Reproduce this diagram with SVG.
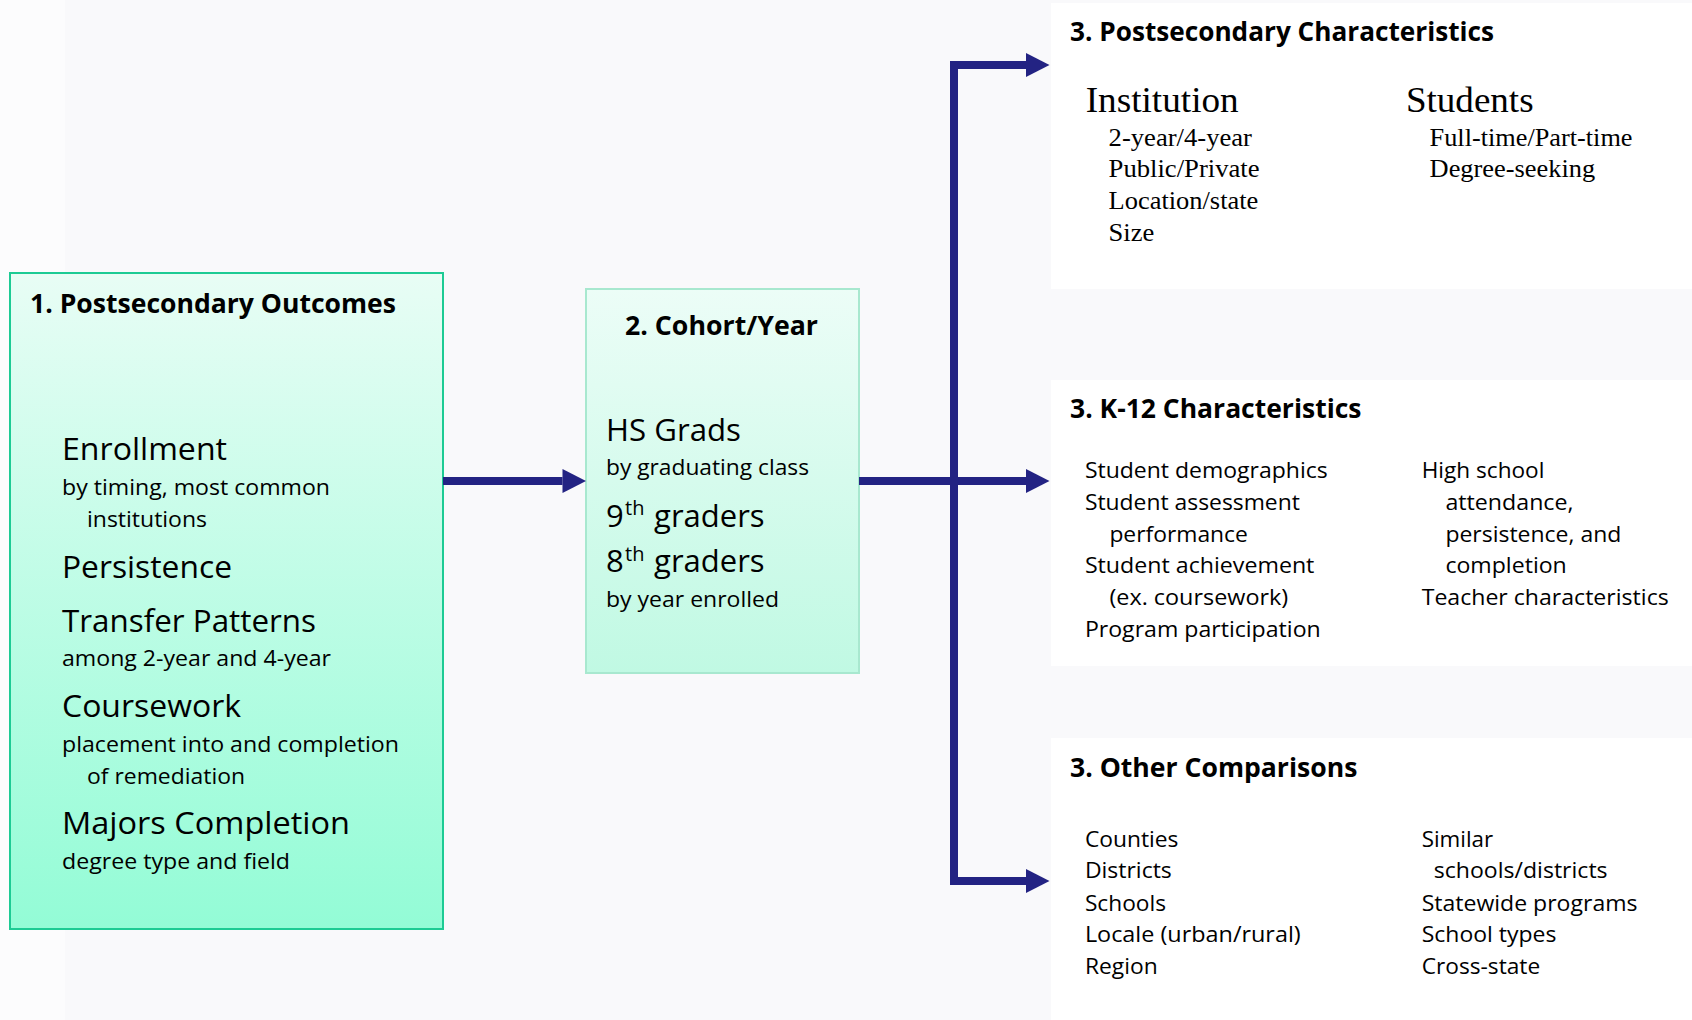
<svg xmlns="http://www.w3.org/2000/svg" width="1692" height="1020" viewBox="0 0 1692 1020">
  <defs>
    <linearGradient id="g1" x1="0" y1="0" x2="0" y2="1">
      <stop offset="0" stop-color="#e8fdf5"/>
      <stop offset="1" stop-color="#93fcd6"/>
    </linearGradient>
    <linearGradient id="g2" x1="0" y1="0" x2="0" y2="1">
      <stop offset="0" stop-color="#ecfdf7"/>
      <stop offset="1" stop-color="#c0f9e3"/>
    </linearGradient>
    <marker id="ah" markerUnits="userSpaceOnUse" markerWidth="24" markerHeight="26" refX="0" refY="12" orient="auto" overflow="visible">
      <path d="M0,0 L23.5,12 L0,24 Z" fill="#232383"/>
    </marker>
  </defs>
  <style>
    .t { font-family: "Open Sans", "Liberation Sans", sans-serif; fill: #000; }
    .s { font-family: "Liberation Serif", "Times New Roman", serif; fill: #000; }
    .title { font-weight: 700; font-size: 27px; }
    .big { font-size: 31px; }
    .sub { font-size: 22px; }
    .sup { font-size: 20px; }
    .sbig { font-size: 36px; }
    .sitem { font-size: 26px; }
    .panel { fill: #ffffff; }
    .conn { fill: none; stroke: #232383; stroke-width: 8; stroke-linejoin: miter; marker-end: url(#ah); }
  </style>

  <rect x="0" y="0" width="1692" height="1020" fill="#f9f9fb"/>
  <rect x="0" y="0" width="65" height="1020" fill="#fcfcfd"/>

  <g id="node-outcomes">
    <rect x="10" y="273" width="433" height="656" fill="url(#g1)" stroke="#1dcb94" stroke-width="2"/>
    <text class="t title" x="30" y="312.7" textLength="366" lengthAdjust="spacingAndGlyphs">1. Postsecondary Outcomes</text>
    <text class="t big" x="62" y="460" textLength="165" lengthAdjust="spacingAndGlyphs">Enrollment</text>
    <text class="t sub" x="62" y="495" textLength="268" lengthAdjust="spacingAndGlyphs">by timing, most common</text>
    <text class="t sub" x="87" y="526.7" textLength="120" lengthAdjust="spacingAndGlyphs">institutions</text>
    <text class="t big" x="62" y="578.3" textLength="170" lengthAdjust="spacingAndGlyphs">Persistence</text>
    <text class="t big" x="62" y="631.7" textLength="254" lengthAdjust="spacingAndGlyphs">Transfer Patterns</text>
    <text class="t sub" x="62" y="665.7" textLength="269" lengthAdjust="spacingAndGlyphs">among 2-year and 4-year</text>
    <text class="t big" x="62" y="717.3" textLength="179" lengthAdjust="spacingAndGlyphs">Coursework</text>
    <text class="t sub" x="62" y="752.3" textLength="337" lengthAdjust="spacingAndGlyphs">placement into and completion</text>
    <text class="t sub" x="87" y="784" textLength="158" lengthAdjust="spacingAndGlyphs">of remediation</text>
    <text class="t big" x="62" y="834.3" textLength="288" lengthAdjust="spacingAndGlyphs">Majors Completion</text>
    <text class="t sub" x="62" y="869.3" textLength="228" lengthAdjust="spacingAndGlyphs">degree type and field</text>
  </g>

  <g id="node-cohort">
    <rect x="586" y="289" width="273" height="384" fill="url(#g2)" stroke="#a8e8cf" stroke-width="2"/>
    <text class="t title" x="625" y="335" textLength="193" lengthAdjust="spacingAndGlyphs">2. Cohort/Year</text>
    <text class="t big" x="606" y="440.7" textLength="135" lengthAdjust="spacingAndGlyphs">HS Grads</text>
    <text class="t sub" x="606" y="475" textLength="203" lengthAdjust="spacingAndGlyphs">by graduating class</text>
    <text class="t big" x="606" y="526.7">9<tspan class="sup" x="625" y="515">th</tspan><tspan x="646" y="526.7"> graders</tspan></text>
    <text class="t big" x="606" y="572.3">8<tspan class="sup" x="625" y="560.6">th</tspan><tspan x="646" y="572.3"> graders</tspan></text>
    <text class="t sub" x="606" y="606.7" textLength="173" lengthAdjust="spacingAndGlyphs">by year enrolled</text>
  </g>

  <g id="node-postsec-char">
    <rect class="panel" x="1051" y="3" width="641" height="286"/>
    <text class="t title" x="1070" y="40.7" textLength="424" lengthAdjust="spacingAndGlyphs">3. Postsecondary Characteristics</text>
    <text class="s sbig" x="1085.7" y="111.7" textLength="153" lengthAdjust="spacingAndGlyphs">Institution</text>
    <text class="s sitem" x="1108.6" y="145.7" textLength="143.4" lengthAdjust="spacingAndGlyphs">2-year/4-year</text>
    <text class="s sitem" x="1108.6" y="177.3" textLength="151" lengthAdjust="spacingAndGlyphs">Public/Private</text>
    <text class="s sitem" x="1108.6" y="209.3" textLength="149.7" lengthAdjust="spacingAndGlyphs">Location/state</text>
    <text class="s sitem" x="1108.6" y="241" textLength="45.7" lengthAdjust="spacingAndGlyphs">Size</text>
    <text class="s sbig" x="1405.9" y="111.7" textLength="127.7" lengthAdjust="spacingAndGlyphs">Students</text>
    <text class="s sitem" x="1429.6" y="145.7" textLength="202.9" lengthAdjust="spacingAndGlyphs">Full-time/Part-time</text>
    <text class="s sitem" x="1429.6" y="177.3" textLength="165.5" lengthAdjust="spacingAndGlyphs">Degree-seeking</text>
  </g>

  <g id="node-k12-char">
    <rect class="panel" x="1051" y="380" width="641" height="286"/>
    <text class="t title" x="1070" y="418.3" textLength="291.5" lengthAdjust="spacingAndGlyphs">3. K-12 Characteristics</text>
    <text class="t sub" x="1084.9" y="477.7" textLength="242.8" lengthAdjust="spacingAndGlyphs">Student demographics</text>
    <text class="t sub" x="1084.9" y="510" textLength="215" lengthAdjust="spacingAndGlyphs">Student assessment</text>
    <text class="t sub" x="1109.4" y="541.7" textLength="138.5" lengthAdjust="spacingAndGlyphs">performance</text>
    <text class="t sub" x="1084.9" y="573.3" textLength="229.5" lengthAdjust="spacingAndGlyphs">Student achievement</text>
    <text class="t sub" x="1109.4" y="605" textLength="178.8" lengthAdjust="spacingAndGlyphs">(ex. coursework)</text>
    <text class="t sub" x="1084.9" y="637.3" textLength="235.8" lengthAdjust="spacingAndGlyphs">Program participation</text>
    <text class="t sub" x="1421.7" y="477.7" textLength="122.7" lengthAdjust="spacingAndGlyphs">High school</text>
    <text class="t sub" x="1445.4" y="510" textLength="128.1" lengthAdjust="spacingAndGlyphs">attendance,</text>
    <text class="t sub" x="1445.4" y="541.7" textLength="175.9" lengthAdjust="spacingAndGlyphs">persistence, and</text>
    <text class="t sub" x="1445.4" y="573.3" textLength="121.4" lengthAdjust="spacingAndGlyphs">completion</text>
    <text class="t sub" x="1421.7" y="605" textLength="247" lengthAdjust="spacingAndGlyphs">Teacher characteristics</text>
  </g>

  <g id="node-other">
    <rect class="panel" x="1051" y="738" width="641" height="282"/>
    <text class="t title" x="1070" y="776.7" textLength="287.4" lengthAdjust="spacingAndGlyphs">3. Other Comparisons</text>
    <text class="t sub" x="1084.9" y="846.7" textLength="93.6" lengthAdjust="spacingAndGlyphs">Counties</text>
    <text class="t sub" x="1084.9" y="878.3" textLength="86.9" lengthAdjust="spacingAndGlyphs">Districts</text>
    <text class="t sub" x="1084.9" y="910.7" textLength="81.1" lengthAdjust="spacingAndGlyphs">Schools</text>
    <text class="t sub" x="1084.9" y="942.3" textLength="215.8" lengthAdjust="spacingAndGlyphs">Locale (urban/rural)</text>
    <text class="t sub" x="1084.9" y="974.3" textLength="72.8" lengthAdjust="spacingAndGlyphs">Region</text>
    <text class="t sub" x="1421.7" y="846.7" textLength="71.5" lengthAdjust="spacingAndGlyphs">Similar</text>
    <text class="t sub" x="1433.8" y="878.3" textLength="173.8" lengthAdjust="spacingAndGlyphs">schools/districts</text>
    <text class="t sub" x="1421.7" y="910.7" textLength="215.8" lengthAdjust="spacingAndGlyphs">Statewide programs</text>
    <text class="t sub" x="1421.7" y="942.3" textLength="134.7" lengthAdjust="spacingAndGlyphs">School types</text>
    <text class="t sub" x="1421.7" y="974.3" textLength="118.5" lengthAdjust="spacingAndGlyphs">Cross-state</text>
  </g>

  <g id="connectors">
    <path class="conn" d="M443,481 H562.5"/>
    <path class="conn" d="M859,481 H1026"/>
    <path class="conn" d="M954,885 V65 H1026"/>
    <path class="conn" d="M954,61 V881 H1026"/>
  </g>
</svg>
